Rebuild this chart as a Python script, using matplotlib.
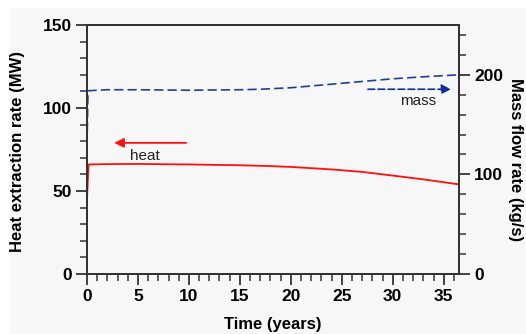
import matplotlib
matplotlib.use("Agg")
import matplotlib.pyplot as plt
from matplotlib import rcParams
from matplotlib.patches import Rectangle
from matplotlib.ticker import MultipleLocator

rcParams.update(
    {
        "font.family": ["Liberation Sans", "DejaVu Sans"],
        "font.size": 11,
    }
)

# Data
time_heat = [0.0, 0.15, 2, 5, 10, 15, 18, 20, 24, 27, 30, 33, 36.5]
heat_mw = [45, 66, 66.2, 66.3, 66.0, 65.5, 65.0, 64.5, 63.0, 61.5, 59.3, 57.0, 54.0]

time_mass = [0.0, 0.1, 2, 5, 10, 15, 17, 20, 25, 30, 33, 36.5]
mass_kgs = [130, 184, 185, 185, 184.5, 185, 185.5, 187, 191.5, 196, 198, 200]

BG = "#f7f7f7"
RED = "#ff1010"
BLUE = "#2040a0"

fig = plt.figure(figsize=(5.26, 3.34), dpi=100, facecolor="white")
fig.patches.append(
    Rectangle((10 / 526, 0), 1, 1 - 8 / 334, transform=fig.transFigure,
              facecolor=BG, edgecolor="none", zorder=-10)
)

ax = fig.add_axes([87 / 526, 1 - 274 / 334, (459 - 87) / 526, (274 - 25) / 334])
ax.set_facecolor(BG)
ax2 = ax.twinx()

ax.plot(time_heat, heat_mw, color=RED, lw=1.3)
ax2.plot(time_mass, mass_kgs, color=BLUE, lw=1.2, ls=(0, (5.5, 2.5)))

ax.set_xlim(0, 36.5)
ax.set_ylim(0, 150)
ax2.set_ylim(0, 250)

ax.xaxis.set_major_locator(MultipleLocator(5))
ax.xaxis.set_minor_locator(MultipleLocator(1))
ax.yaxis.set_major_locator(MultipleLocator(50))
ax.yaxis.set_minor_locator(MultipleLocator(10))
ax2.yaxis.set_major_locator(MultipleLocator(100))
ax2.yaxis.set_minor_locator(MultipleLocator(20))

for a in (ax, ax2):
    for s in a.spines.values():
        s.set_color("#333333")
        s.set_linewidth(1.4)
    a.tick_params(which="major", length=8, width=1.3, color="#333333", labelsize=12.5, pad=3)
    a.tick_params(which="minor", length=5, width=1.1, color="#333333")
    for lbl in a.get_xticklabels() + a.get_yticklabels():
        lbl.set_fontweight("bold")

# arrows + labels
ax.annotate("", xy=(2.4, 79), xytext=(10.0, 79),
            arrowprops=dict(arrowstyle="-|>", color=RED, lw=1.3, mutation_scale=14))
ax.text(5.7, 71, "heat", ha="center", va="center", fontsize=11, color="#222222")
ax2.annotate("", xy=(36.0, 185.5), xytext=(27.3, 185.5),
             arrowprops=dict(arrowstyle="-|>", color="#1030a0", lw=1.2, ls=(0, (4, 2)),
                             mutation_scale=14))
ax2.text(32.5, 173.5, "mass", ha="center", va="center", fontsize=11, color="#222222")

fig.text(18 / 526, 1 - 151 / 334, "Heat extraction rate (MW)", rotation=90,
         ha="center", va="center", fontsize=12, fontweight="bold")
fig.text(516 / 526, 1 - 160 / 334, "Mass flow rate (kg/s)", rotation=-90,
         ha="center", va="center", fontsize=12, fontweight="bold")
fig.text(273 / 526, 1 - 324 / 334, "Time (years)", ha="center", va="center",
         fontsize=12, fontweight="bold")

fig.savefig("out.png", dpi=100, facecolor=fig.get_facecolor())
